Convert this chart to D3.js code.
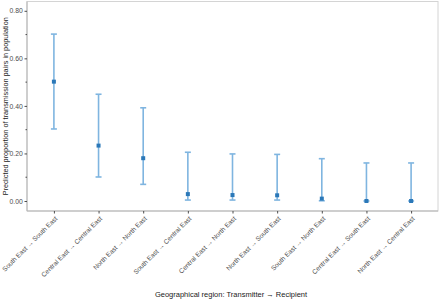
<!DOCTYPE html>
<html>
<head>
<meta charset="utf-8">
<script src="https://d3js.org/d3.v7.min.js"></script>
<style>
  body { margin: 0; background: #fff; }
  text { font-family: "Liberation Sans", Arial, sans-serif; }
</style>
</head>
<body>
<script>
var categories = [
  "South East \u2192 South East",
  "Central East \u2192 Central East",
  "North East \u2192 North East",
  "South East \u2192 Central East",
  "Central East \u2192 North East",
  "North East \u2192 South East",
  "South East \u2192 North East",
  "Central East \u2192 South East",
  "North East \u2192 Central East"
];
var estimate = [0.502, 0.233, 0.180, 0.029, 0.025, 0.024, 0.010, 0.000, 0.000];
var lower    = [0.303, 0.101, 0.070, 0.004, 0.004, 0.004, 0.001, 0.000, 0.000];
var upper    = [0.702, 0.449, 0.392, 0.205, 0.198, 0.196, 0.178, 0.160, 0.160];
var yTicks = [0, 0.2, 0.4, 0.6, 0.8];
var yMinor = [0.1, 0.3, 0.5, 0.7];

var data = categories.map(function(c, i) {
  return {cat: c, est: estimate[i], lo: lower[i], hi: upper[i]};
});

var W = 440, H = 302;
var pLeft = 27, pRight = 438, pTop = 1.5, pBottom = 211;

var svg = d3.select("body").append("svg")
    .attr("width", W)
    .attr("height", H);

var x = d3.scalePoint()
    .domain(categories)
    .range([pLeft + 26.9, pRight - 26.9]);

var y = d3.scaleLinear()
    .domain([0, 0.8])
    .range([201, 10.8]);

// panel border
svg.append("rect")
    .attr("x", pLeft)
    .attr("y", pTop)
    .attr("width", pRight - pLeft)
    .attr("height", pBottom - pTop)
    .attr("fill", "none")
    .attr("stroke", "#d4d4d4")
    .attr("stroke-width", 1);

// error bars + points
var g = svg.append("g");
var cap = 3;
data.forEach(function(d) {
  var cx = x(d.cat);
  g.append("line")
      .attr("x1", cx).attr("x2", cx)
      .attr("y1", y(d.lo)).attr("y2", y(d.hi))
      .attr("stroke", "#7fb5e0").attr("stroke-width", 1.6);
  [d.lo, d.hi].forEach(function(v) {
    g.append("line")
        .attr("x1", cx - cap).attr("x2", cx + cap)
        .attr("y1", y(v)).attr("y2", y(v))
        .attr("stroke", "#7fb5e0").attr("stroke-width", 1.6);
  });
  g.append("rect")
      .attr("x", cx - 2).attr("y", y(d.est) - 2)
      .attr("width", 4).attr("height", 4)
      .attr("fill", "#2b78b8");
});

// y axis
var yAxis = svg.append("g")
    .attr("transform", "translate(" + pLeft + ",0)")
    .call(d3.axisLeft(y).tickValues(yTicks).tickFormat(d3.format(".2f")).tickSize(2.5).tickPadding(1.8));
yAxis.select(".domain").attr("stroke", "#b3b3b3").attr("d", "M0," + pTop + "V" + pBottom);
yAxis.selectAll(".tick line").attr("stroke", "#4d4d4d");
yAxis.selectAll("text").attr("fill", "#4d4d4d").attr("font-size", 6.8);

svg.append("g")
    .selectAll("line")
    .data(yMinor)
    .join("line")
    .attr("x1", pLeft - 1.5).attr("x2", pLeft)
    .attr("y1", function(d) { return y(d); })
    .attr("y2", function(d) { return y(d); })
    .attr("stroke", "#4d4d4d");

// x axis
var xAxis = svg.append("g")
    .attr("transform", "translate(0," + pBottom + ")")
    .call(d3.axisBottom(x).tickSize(2.5).tickPadding(0));
xAxis.select(".domain").attr("stroke", "#b3b3b3").attr("d", "M" + pLeft + ",0H" + pRight);
xAxis.selectAll(".tick line").attr("stroke", "#4d4d4d");
xAxis.selectAll("text")
    .attr("fill", "#4d4d4d")
    .attr("font-size", 6.6)
    .attr("text-anchor", "end")
    .attr("dy", 0)
    .attr("y", 0)
    .attr("transform", "translate(3.5,8) rotate(-45)");

// axis titles
svg.append("text")
    .attr("x", 231)
    .attr("y", 297)
    .attr("text-anchor", "middle")
    .attr("font-size", 7.5)
    .attr("fill", "#1a1a1a")
    .text("Geographical region: Transmitter  \u2192  Recipient");

svg.append("text")
    .attr("transform", "translate(7.8," + ((pTop + pBottom) / 2) + ") rotate(-90)")
    .attr("text-anchor", "middle")
    .attr("font-size", 7.3)
    .attr("fill", "#1a1a1a")
    .text("Predicted proportion of transmission pairs in population");
</script>
</body>
</html>
